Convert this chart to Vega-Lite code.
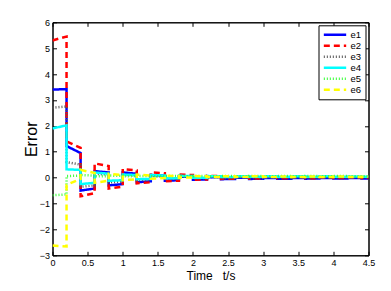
{
"$schema":"https://vega.github.io/schema/vega-lite/v6.json",
"width":316,"height":233,
"autosize":"none",
"padding":{"left":52.5,"top":22.3,"right":22.5,"bottom":35.7},
"background":"white",
"config":{"view":{"stroke":"#000","strokeWidth":1},"font":"Liberation Sans","axis":{"labelFont":"Liberation Sans","titleFont":"Liberation Sans","labelColor":"#000","titleColor":"#000","domainColor":"#000","tickColor":"#000","grid":false,"labelFontSize":9,"titleFontWeight":"normal"}},
"data":{"values":[
{"s":"e1","o":0,"t":0,"v":3.40},{"s":"e1","o":1,"t":0.2,"v":3.42},{"s":"e1","o":2,"t":0.2,"v":1.22},{"s":"e1","o":3,"t":0.4,"v":0.95},{"s":"e1","o":4,"t":0.4,"v":-0.50},{"s":"e1","o":5,"t":0.6,"v":-0.42},{"s":"e1","o":6,"t":0.6,"v":0.25},{"s":"e1","o":7,"t":0.8,"v":0.20},{"s":"e1","o":8,"t":0.8,"v":-0.30},{"s":"e1","o":9,"t":1,"v":-0.25},{"s":"e1","o":10,"t":1,"v":0.20},{"s":"e1","o":11,"t":1.2,"v":0.15},{"s":"e1","o":12,"t":1.2,"v":-0.18},{"s":"e1","o":13,"t":1.4,"v":-0.14},{"s":"e1","o":14,"t":1.4,"v":0.10},{"s":"e1","o":15,"t":1.6,"v":0.08},{"s":"e1","o":16,"t":1.6,"v":-0.12},{"s":"e1","o":17,"t":1.8,"v":-0.10},{"s":"e1","o":18,"t":1.8,"v":0.04},{"s":"e1","o":19,"t":2,"v":0.03},{"s":"e1","o":20,"t":2,"v":-0.08},{"s":"e1","o":21,"t":2.2,"v":-0.07},{"s":"e1","o":22,"t":2.2,"v":0.02},{"s":"e1","o":23,"t":2.4,"v":0.01},{"s":"e1","o":24,"t":2.4,"v":-0.06},{"s":"e1","o":25,"t":2.6,"v":-0.05},{"s":"e1","o":26,"t":2.6,"v":0},{"s":"e1","o":27,"t":2.8,"v":0},{"s":"e1","o":28,"t":2.8,"v":-0.05},{"s":"e1","o":29,"t":3,"v":-0.04},{"s":"e1","o":30,"t":3,"v":-0.01},{"s":"e1","o":31,"t":3.2,"v":-0.01},{"s":"e1","o":32,"t":3.2,"v":-0.04},{"s":"e1","o":33,"t":3.4,"v":-0.04},{"s":"e1","o":34,"t":3.4,"v":-0.01},{"s":"e1","o":35,"t":3.6,"v":-0.01},{"s":"e1","o":36,"t":3.6,"v":-0.04},{"s":"e1","o":37,"t":3.8,"v":-0.03},{"s":"e1","o":38,"t":3.8,"v":-0.01},{"s":"e1","o":39,"t":4,"v":-0.01},{"s":"e1","o":40,"t":4,"v":-0.03},{"s":"e1","o":41,"t":4.2,"v":-0.03},{"s":"e1","o":42,"t":4.2,"v":-0.01},{"s":"e1","o":43,"t":4.4,"v":-0.01},{"s":"e1","o":44,"t":4.4,"v":-0.03},{"s":"e1","o":45,"t":4.5,"v":-0.03},
{"s":"e2","o":0,"t":0,"v":5.30},{"s":"e2","o":1,"t":0.2,"v":5.45},{"s":"e2","o":2,"t":0.2,"v":1.40},{"s":"e2","o":3,"t":0.4,"v":1.15},{"s":"e2","o":4,"t":0.4,"v":-0.72},{"s":"e2","o":5,"t":0.6,"v":-0.60},{"s":"e2","o":6,"t":0.6,"v":0.55},{"s":"e2","o":7,"t":0.8,"v":0.45},{"s":"e2","o":8,"t":0.8,"v":-0.42},{"s":"e2","o":9,"t":1,"v":-0.35},{"s":"e2","o":10,"t":1,"v":0.33},{"s":"e2","o":11,"t":1.2,"v":0.28},{"s":"e2","o":12,"t":1.2,"v":-0.22},{"s":"e2","o":13,"t":1.4,"v":-0.18},{"s":"e2","o":14,"t":1.4,"v":0.20},{"s":"e2","o":15,"t":1.6,"v":0.17},{"s":"e2","o":16,"t":1.6,"v":-0.14},{"s":"e2","o":17,"t":1.8,"v":-0.12},{"s":"e2","o":18,"t":1.8,"v":0.12},{"s":"e2","o":19,"t":2,"v":0.10},{"s":"e2","o":20,"t":2,"v":-0.08},{"s":"e2","o":21,"t":2.2,"v":-0.07},{"s":"e2","o":22,"t":2.2,"v":0.07},{"s":"e2","o":23,"t":2.4,"v":0.06},{"s":"e2","o":24,"t":2.4,"v":-0.05},{"s":"e2","o":25,"t":2.6,"v":-0.04},{"s":"e2","o":26,"t":2.6,"v":0.04},{"s":"e2","o":27,"t":2.8,"v":0.04},{"s":"e2","o":28,"t":2.8,"v":-0.03},{"s":"e2","o":29,"t":3,"v":-0.03},{"s":"e2","o":30,"t":3,"v":0.03},{"s":"e2","o":31,"t":3.2,"v":0.03},{"s":"e2","o":32,"t":3.2,"v":-0.02},{"s":"e2","o":33,"t":3.4,"v":-0.02},{"s":"e2","o":34,"t":3.4,"v":0.02},{"s":"e2","o":35,"t":3.6,"v":0.02},{"s":"e2","o":36,"t":3.6,"v":-0.02},{"s":"e2","o":37,"t":3.8,"v":-0.02},{"s":"e2","o":38,"t":3.8,"v":0.01},{"s":"e2","o":39,"t":4,"v":0.01},{"s":"e2","o":40,"t":4,"v":-0.01},{"s":"e2","o":41,"t":4.2,"v":-0.01},{"s":"e2","o":42,"t":4.2,"v":0.01},{"s":"e2","o":43,"t":4.4,"v":0.01},{"s":"e2","o":44,"t":4.4,"v":-0.01},{"s":"e2","o":45,"t":4.5,"v":-0.01},
{"s":"e3","o":0,"t":0,"v":2.70},{"s":"e3","o":1,"t":0.2,"v":2.75},{"s":"e3","o":2,"t":0.2,"v":0.60},{"s":"e3","o":3,"t":0.4,"v":0.50},{"s":"e3","o":4,"t":0.4,"v":-0.35},{"s":"e3","o":5,"t":0.6,"v":-0.30},{"s":"e3","o":6,"t":0.6,"v":0.15},{"s":"e3","o":7,"t":0.8,"v":0.12},{"s":"e3","o":8,"t":0.8,"v":-0.18},{"s":"e3","o":9,"t":1,"v":-0.15},{"s":"e3","o":10,"t":1,"v":0.10},{"s":"e3","o":11,"t":1.2,"v":0.08},{"s":"e3","o":12,"t":1.2,"v":-0.10},{"s":"e3","o":13,"t":1.4,"v":-0.08},{"s":"e3","o":14,"t":1.4,"v":0.06},{"s":"e3","o":15,"t":1.6,"v":0.05},{"s":"e3","o":16,"t":1.6,"v":-0.06},{"s":"e3","o":17,"t":1.8,"v":-0.05},{"s":"e3","o":18,"t":1.8,"v":0.04},{"s":"e3","o":19,"t":2,"v":0.03},{"s":"e3","o":20,"t":2,"v":-0.04},{"s":"e3","o":21,"t":2.2,"v":-0.03},{"s":"e3","o":22,"t":2.2,"v":0.02},{"s":"e3","o":23,"t":2.4,"v":0.02},{"s":"e3","o":24,"t":2.4,"v":-0.02},{"s":"e3","o":25,"t":2.6,"v":-0.02},{"s":"e3","o":26,"t":2.6,"v":0.02},{"s":"e3","o":27,"t":2.8,"v":0.02},{"s":"e3","o":28,"t":2.8,"v":-0.02},{"s":"e3","o":29,"t":3,"v":-0.02},{"s":"e3","o":30,"t":3,"v":0.01},{"s":"e3","o":31,"t":3.2,"v":0.01},{"s":"e3","o":32,"t":3.2,"v":-0.01},{"s":"e3","o":33,"t":3.4,"v":-0.01},{"s":"e3","o":34,"t":3.4,"v":0.01},{"s":"e3","o":35,"t":3.6,"v":0.01},{"s":"e3","o":36,"t":3.6,"v":-0.01},{"s":"e3","o":37,"t":3.8,"v":-0.01},{"s":"e3","o":38,"t":3.8,"v":0.01},{"s":"e3","o":39,"t":4,"v":0.01},{"s":"e3","o":40,"t":4,"v":-0.01},{"s":"e3","o":41,"t":4.2,"v":-0.01},{"s":"e3","o":42,"t":4.2,"v":0.01},{"s":"e3","o":43,"t":4.4,"v":0.01},{"s":"e3","o":44,"t":4.4,"v":0},{"s":"e3","o":45,"t":4.5,"v":0},
{"s":"e4","o":0,"t":0,"v":1.90},{"s":"e4","o":1,"t":0.2,"v":2.02},{"s":"e4","o":2,"t":0.2,"v":0.32},{"s":"e4","o":3,"t":0.4,"v":0.30},{"s":"e4","o":4,"t":0.4,"v":-0.25},{"s":"e4","o":5,"t":0.6,"v":-0.20},{"s":"e4","o":6,"t":0.6,"v":0.20},{"s":"e4","o":7,"t":0.8,"v":0.15},{"s":"e4","o":8,"t":0.8,"v":-0.12},{"s":"e4","o":9,"t":1,"v":-0.10},{"s":"e4","o":10,"t":1,"v":0.12},{"s":"e4","o":11,"t":1.2,"v":0.10},{"s":"e4","o":12,"t":1.2,"v":-0.06},{"s":"e4","o":13,"t":1.4,"v":-0.05},{"s":"e4","o":14,"t":1.4,"v":0.10},{"s":"e4","o":15,"t":1.6,"v":0.08},{"s":"e4","o":16,"t":1.6,"v":-0.02},{"s":"e4","o":17,"t":1.8,"v":-0.02},{"s":"e4","o":18,"t":1.8,"v":0.07},{"s":"e4","o":19,"t":2,"v":0.06},{"s":"e4","o":20,"t":2,"v":0},{"s":"e4","o":21,"t":2.2,"v":0},{"s":"e4","o":22,"t":2.2,"v":0.06},{"s":"e4","o":23,"t":2.4,"v":0.05},{"s":"e4","o":24,"t":2.4,"v":0.02},{"s":"e4","o":25,"t":2.6,"v":0.02},{"s":"e4","o":26,"t":2.6,"v":0.05},{"s":"e4","o":27,"t":2.8,"v":0.05},{"s":"e4","o":28,"t":2.8,"v":0.03},{"s":"e4","o":29,"t":3,"v":0.03},{"s":"e4","o":30,"t":3,"v":0.05},{"s":"e4","o":31,"t":3.2,"v":0.05},{"s":"e4","o":32,"t":3.2,"v":0.03},{"s":"e4","o":33,"t":3.4,"v":0.03},{"s":"e4","o":34,"t":3.4,"v":0.05},{"s":"e4","o":35,"t":3.6,"v":0.05},{"s":"e4","o":36,"t":3.6,"v":0.03},{"s":"e4","o":37,"t":3.8,"v":0.03},{"s":"e4","o":38,"t":3.8,"v":0.05},{"s":"e4","o":39,"t":4,"v":0.05},{"s":"e4","o":40,"t":4,"v":0.03},{"s":"e4","o":41,"t":4.2,"v":0.03},{"s":"e4","o":42,"t":4.2,"v":0.04},{"s":"e4","o":43,"t":4.4,"v":0.04},{"s":"e4","o":44,"t":4.4,"v":0.03},{"s":"e4","o":45,"t":4.5,"v":0.03},
{"s":"e5","o":0,"t":0,"v":-0.68},{"s":"e5","o":1,"t":0.2,"v":-0.65},{"s":"e5","o":2,"t":0.2,"v":0.06},{"s":"e5","o":3,"t":0.4,"v":0.08},{"s":"e5","o":4,"t":0.4,"v":0.10},{"s":"e5","o":5,"t":0.6,"v":0.08},{"s":"e5","o":6,"t":0.6,"v":0.05},{"s":"e5","o":7,"t":0.8,"v":0.06},{"s":"e5","o":8,"t":0.8,"v":0.08},{"s":"e5","o":9,"t":1,"v":0.07},{"s":"e5","o":10,"t":1,"v":0.05},{"s":"e5","o":11,"t":1.2,"v":0.06},{"s":"e5","o":12,"t":1.2,"v":0.07},{"s":"e5","o":13,"t":1.4,"v":0.06},{"s":"e5","o":14,"t":1.4,"v":0.05},{"s":"e5","o":15,"t":1.6,"v":0.05},{"s":"e5","o":16,"t":1.6,"v":0.06},{"s":"e5","o":17,"t":1.8,"v":0.06},{"s":"e5","o":18,"t":1.8,"v":0.05},{"s":"e5","o":19,"t":2,"v":0.05},{"s":"e5","o":20,"t":2,"v":0.06},{"s":"e5","o":21,"t":2.2,"v":0.06},{"s":"e5","o":22,"t":2.2,"v":0.05},{"s":"e5","o":23,"t":2.4,"v":0.05},{"s":"e5","o":24,"t":2.4,"v":0.06},{"s":"e5","o":25,"t":2.6,"v":0.06},{"s":"e5","o":26,"t":2.6,"v":0.05},{"s":"e5","o":27,"t":2.8,"v":0.05},{"s":"e5","o":28,"t":2.8,"v":0.06},{"s":"e5","o":29,"t":3,"v":0.06},{"s":"e5","o":30,"t":3,"v":0.05},{"s":"e5","o":31,"t":3.2,"v":0.05},{"s":"e5","o":32,"t":3.2,"v":0.06},{"s":"e5","o":33,"t":3.4,"v":0.06},{"s":"e5","o":34,"t":3.4,"v":0.05},{"s":"e5","o":35,"t":3.6,"v":0.05},{"s":"e5","o":36,"t":3.6,"v":0.06},{"s":"e5","o":37,"t":3.8,"v":0.06},{"s":"e5","o":38,"t":3.8,"v":0.05},{"s":"e5","o":39,"t":4,"v":0.05},{"s":"e5","o":40,"t":4,"v":0.06},{"s":"e5","o":41,"t":4.2,"v":0.06},{"s":"e5","o":42,"t":4.2,"v":0.05},{"s":"e5","o":43,"t":4.4,"v":0.05},{"s":"e5","o":44,"t":4.4,"v":0.05},{"s":"e5","o":45,"t":4.5,"v":0.05},
{"s":"e6","o":0,"t":0,"v":-2.62},{"s":"e6","o":1,"t":0.2,"v":-2.66},{"s":"e6","o":2,"t":0.2,"v":-0.28},{"s":"e6","o":3,"t":0.4,"v":-0.05},{"s":"e6","o":4,"t":0.4,"v":0.30},{"s":"e6","o":5,"t":0.6,"v":0.18},{"s":"e6","o":6,"t":0.6,"v":-0.20},{"s":"e6","o":7,"t":0.8,"v":-0.12},{"s":"e6","o":8,"t":0.8,"v":0.15},{"s":"e6","o":9,"t":1,"v":0.10},{"s":"e6","o":10,"t":1,"v":-0.10},{"s":"e6","o":11,"t":1.2,"v":-0.06},{"s":"e6","o":12,"t":1.2,"v":0.12},{"s":"e6","o":13,"t":1.4,"v":0.08},{"s":"e6","o":14,"t":1.4,"v":-0.04},{"s":"e6","o":15,"t":1.6,"v":-0.02},{"s":"e6","o":16,"t":1.6,"v":0.08},{"s":"e6","o":17,"t":1.8,"v":0.06},{"s":"e6","o":18,"t":1.8,"v":0},{"s":"e6","o":19,"t":2,"v":0.01},{"s":"e6","o":20,"t":2,"v":0.06},{"s":"e6","o":21,"t":2.2,"v":0.05},{"s":"e6","o":22,"t":2.2,"v":0.02},{"s":"e6","o":23,"t":2.4,"v":0.02},{"s":"e6","o":24,"t":2.4,"v":0.05},{"s":"e6","o":25,"t":2.6,"v":0.05},{"s":"e6","o":26,"t":2.6,"v":0.02},{"s":"e6","o":27,"t":2.8,"v":0.02},{"s":"e6","o":28,"t":2.8,"v":0.05},{"s":"e6","o":29,"t":3,"v":0.05},{"s":"e6","o":30,"t":3,"v":0.02},{"s":"e6","o":31,"t":3.2,"v":0.02},{"s":"e6","o":32,"t":3.2,"v":0.04},{"s":"e6","o":33,"t":3.4,"v":0.04},{"s":"e6","o":34,"t":3.4,"v":0.02},{"s":"e6","o":35,"t":3.6,"v":0.02},{"s":"e6","o":36,"t":3.6,"v":0.04},{"s":"e6","o":37,"t":3.8,"v":0.04},{"s":"e6","o":38,"t":3.8,"v":0.02},{"s":"e6","o":39,"t":4,"v":0.02},{"s":"e6","o":40,"t":4,"v":0.04},{"s":"e6","o":41,"t":4.2,"v":0.04},{"s":"e6","o":42,"t":4.2,"v":0.02},{"s":"e6","o":43,"t":4.4,"v":0.02},{"s":"e6","o":44,"t":4.4,"v":0.03},{"s":"e6","o":45,"t":4.5,"v":0.03}
]},
"resolve":{"axis":{"x":"independent","y":"independent"}},
"layer":[
{"mark":{"type":"line","clip":true},
 "encoding":{
  "x":{"field":"t","type":"quantitative","scale":{"domain":[0,4.5],"nice":false},"axis":{"orient":"bottom","title":"Time\u00a0\u00a0\u00a0t/s","titleFontSize":12,"titlePadding":3,"format":"~g","values":[0,0.5,1,1.5,2,2.5,3,3.5,4,4.5],"tickSize":-4,"labelPadding":7,"labelFlush":false,"labelOverlap":false}},
  "y":{"field":"v","type":"quantitative","scale":{"domain":[-3,6],"nice":false},"axis":{"orient":"left","title":"Error","titleFontSize":16,"titlePadding":0,"format":"~g","values":[-3,-2,-1,0,1,2,3,4,5,6],"tickSize":-4,"labelPadding":7}},
  "color":{"field":"s","type":"nominal","scale":{"domain":["e1","e2","e3","e4","e5","e6"],"range":["#0000ff","#ff0000","#555555","#00ffff","#33ff33","#ffff00"]},"legend":{"title":null,"orient":"top-right","offset":3,"fillColor":"white","strokeColor":"#000","padding":4,"symbolType":"stroke","symbolSize":500,"clipHeight":11,"rowPadding":0,"labelFontSize":9.5,"labelFont":"Liberation Sans","labelOffset":3,"symbolStrokeWidth":2.5,"cornerRadius":0}},
  "strokeDash":{"field":"s","type":"nominal","scale":{"domain":["e1","e2","e3","e4","e5","e6"],"range":[[1,0],[6,4],[1,2],[1,0],[1,2],[6,4]]}},
  "strokeWidth":{"field":"s","type":"nominal","scale":{"domain":["e1","e2","e3","e4","e5","e6"],"range":[2.5,2.5,1,2,1.2,2.5]}},
  "order":{"field":"o","type":"quantitative"}
 }},
{"mark":{"type":"line","opacity":0},
 "encoding":{
  "x":{"field":"t","type":"quantitative","axis":{"orient":"top","title":null,"labels":false,"values":[0,0.5,1,1.5,2,2.5,3,3.5,4,4.5],"tickSize":-4}},
  "y":{"field":"v","type":"quantitative","axis":{"orient":"right","title":null,"labels":false,"values":[-3,-2,-1,0,1,2,3,4,5,6],"tickSize":-4}},
  "detail":{"field":"s"},
  "order":{"field":"o","type":"quantitative"}
 }}
]
}
